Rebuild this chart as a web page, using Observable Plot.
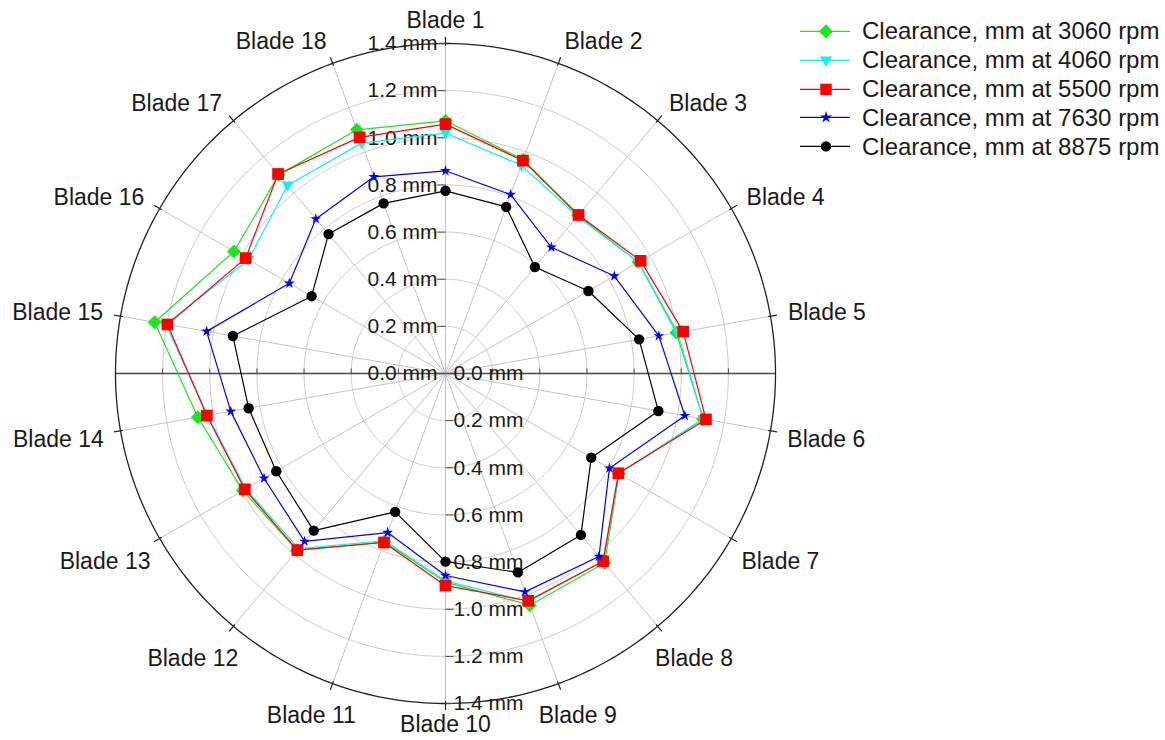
<!DOCTYPE html>
<html>
<head>
<meta charset="utf-8">
<script src="https://cdn.jsdelivr.net/npm/d3@7"></script>
<script src="https://cdn.jsdelivr.net/npm/@observablehq/plot@0.6"></script>
<style>
  body { margin: 0; background: #fff; font-family: "Liberation Sans", Arial, sans-serif; }
  #wrap { position: relative; width: 1165px; height: 740px; overflow: hidden; }
  #legend { position: absolute; left: 800px; top: 17px; }
  .row { display: flex; align-items: center; height: 28.8px; font-size: 24px; color: #1a1a1a; white-space: nowrap; }
  .row svg { margin-right: 12px; flex: none; }
</style>
</head>
<body>
<div id="wrap"><div id="legend"></div></div>
<script>
// ---------- data ----------
const blades = ["Blade 1","Blade 2","Blade 3","Blade 4","Blade 5","Blade 6","Blade 7","Blade 8","Blade 9",
                "Blade 10","Blade 11","Blade 12","Blade 13","Blade 14","Blade 15","Blade 16","Blade 17","Blade 18"];
const seriesNames = ["Clearance, mm at 3060 rpm","Clearance, mm at 4060 rpm","Clearance, mm at 5500 rpm",
                     "Clearance, mm at 7630 rpm","Clearance, mm at 8875 rpm"];
const clear3060 = [1.072,0.965,0.875,0.945,0.995,1.110,0.850,1.050,1.046,0.885,0.760,0.980,0.993,1.067,1.253,1.036,1.100,1.100];
const clear4060 = [1.020,0.940,0.870,0.945,1.000,1.110,0.850,1.040,1.030,0.880,0.755,0.970,0.978,1.025,1.205,0.965,1.042,1.040];
const clear5500 = [1.058,0.961,0.878,0.956,1.024,1.122,0.847,1.040,1.026,0.900,0.763,0.978,0.983,1.028,1.198,0.979,1.105,1.066];
const clear7630 = [0.860,0.808,0.699,0.827,0.919,1.031,0.803,1.013,0.986,0.857,0.718,0.930,0.889,0.925,1.029,0.765,0.856,0.888];
const clear8875 = [0.775,0.752,0.590,0.700,0.834,0.917,0.714,0.894,0.898,0.798,0.625,0.870,0.829,0.848,0.916,0.656,0.772,0.768];
const radialTicks = [0, 0.2, 0.4, 0.6, 0.8, 1.0, 1.2, 1.4];
const tickLabels = ["0.0 mm","0.2 mm","0.4 mm","0.6 mm","0.8 mm","1.0 mm","1.2 mm","1.4 mm"];

// ---------- styles ----------
const downTriangle = {
  draw(ctx, size) {
    const r = Math.sqrt(size / Math.PI);
    ctx.moveTo(-1.15 * r, -0.75 * r);
    ctx.lineTo(1.15 * r, -0.75 * r);
    ctx.lineTo(0, 1.25 * r);
    ctx.closePath();
  }
};
const styles = [
  {color: "#1ee61e", symbol: "diamond2", r: 6.3, d3sym: d3.symbolDiamond2, lsize: 130},
  {color: "#10f0f0", symbol: downTriangle, r: 5.2, d3sym: downTriangle, lsize: 85},
  {color: "#ff0000", symbol: "square", r: 6.6, d3sym: d3.symbolSquare, lsize: 130},
  {color: "#0000ff", symbol: "star", r: 3.4, d3sym: d3.symbolStar, lsize: 45},
  {color: "#000000", symbol: "circle", r: 5.2, d3sym: d3.symbolCircle, lsize: 85}
];
const seriesValues = [clear3060, clear4060, clear5500, clear7630, clear8875];

const RMAX = 1.4;
const lon = i => 180 - 20 * i;       // Blade 1 at top, clockwise
const lat = v => 90 - v;             // radius in degrees from the pole

const vTick = {draw(ctx) { ctx.moveTo(0, 0); ctx.lineTo(0, -5); }};
const lTick = {draw(ctx) { ctx.moveTo(0, 0); ctx.lineTo(-8, 0); }};
const rTick = {draw(ctx) { ctx.moveTo(0, 0); ctx.lineTo(8, 0); }};

const circle = r => d3.geoCircle().center([0, 90]).radius(r).precision(1)();

// text width measurement for blade label placement
const cnv = document.createElement("canvas").getContext("2d");
cnv.font = "23px 'Liberation Sans'";

const bladeLabelMarks = blades.map((b, i) => {
  const deg = 20 * i;
  const th = deg * Math.PI / 180;
  const w = cnv.measureText(b).width;
  const upper = Math.cos(th) > 0.01;
  let dx, dy, anchor = "middle";
  if (upper) {
    dy = -Math.cos(th) * 5;
    if (deg === 0) { dx = 0; }
    else { dx = 0; anchor = Math.sin(th) > 0 ? "start" : "end"; }
  } else if (deg === 180) {
    dx = 0; dy = 3.5;
  } else {
    const phi = Math.abs(deg - 180) * Math.PI / 180;
    dx = Math.sin(th) * w / 2;
    dy = -Math.cos(th) * 8.5 + 12 * Math.sin(2 * phi);
  }
  return Plot.text([b], {
    x: lon(i), y: lat(1.475), text: d => d,
    dx, dy, fontSize: 23, fill: "#1a1a1a", textAnchor: anchor
  });
});

const seriesMarks = seriesValues.flatMap((vals, s) => {
  const st = styles[s];
  const rows = vals.map((v, i) => ({i, v}));
  return [
    Plot.line(rows, {x: d => lon(d.i), y: d => lat(d.v), stroke: st.color, strokeWidth: 1.2, curve: "linear-closed"}),
    Plot.dot(rows, {x: d => lon(d.i), y: d => lat(d.v), symbol: st.symbol, r: st.r, fill: st.color, stroke: "none"})
  ];
});

const hAxisTicks = radialTicks.filter(v => v > 0 && v < RMAX);

const chart = Plot.plot({
  width: 1165,
  height: 740,
  marginLeft: 115, marginRight: 390, marginTop: 43, marginBottom: 37,
  style: {fontFamily: "'Liberation Sans', Arial, sans-serif", background: "transparent", overflow: "visible"},
  projection: {
    type: "azimuthal-equidistant",
    rotate: [0, -90],
    domain: circle(RMAX),
    clip: false
  },
  marks: [
    // grid circles
    Plot.geo(radialTicks.filter(v => v > 0 && v < RMAX), {geometry: circle, stroke: "#cccccc", fill: "none", strokeWidth: 1}),
    // spokes
    Plot.link(blades, {x1: (d, i) => lon(i), y1: 90, x2: (d, i) => lon(i), y2: lat(RMAX), stroke: "#c4c4c4", strokeWidth: 1}),
    // horizontal axis
    Plot.link([90, -90], {x1: d => d, y1: 90, x2: d => d, y2: lat(RMAX), stroke: "#4a4a4a", strokeWidth: 1.3}),
    Plot.dot(hAxisTicks.flatMap(v => [[90, v], [-90, v]]), {x: d => d[0], y: d => lat(d[1]), symbol: vTick, stroke: "#4a4a4a", fill: "none", strokeWidth: 1}),
    // outer circle
    Plot.geo([RMAX], {geometry: circle, stroke: "#222", fill: "none", strokeWidth: 1.3}),
    // outer spoke ticks
    Plot.link(blades, {x1: (d, i) => lon(i), y1: lat(RMAX - 0.01), x2: (d, i) => lon(i), y2: lat(RMAX + 0.028), stroke: "#222", strokeWidth: 1.2}),
    // radial tick labels (upper and lower)
    Plot.text(radialTicks, {x: 180, y: d => lat(d), text: (d, i) => tickLabels[i], textAnchor: "end", dx: -8, fontSize: 21, fill: "#1a1a1a"}),
    Plot.text(radialTicks, {x: 0, y: d => lat(d), text: (d, i) => tickLabels[i], textAnchor: "start", dx: 8, fontSize: 21, fill: "#1a1a1a"}),
    // vertical axis ticks
    Plot.dot(radialTicks, {x: 180, y: d => lat(d), symbol: lTick, stroke: "#4a4a4a", fill: "none", strokeWidth: 1}),
    Plot.dot(radialTicks, {x: 0, y: d => lat(d), symbol: rTick, stroke: "#4a4a4a", fill: "none", strokeWidth: 1}),
    // blade labels
    ...bladeLabelMarks,
    // data
    ...seriesMarks
  ]
});
chart.style.position = "absolute";
chart.style.left = "0";
chart.style.top = "0";
document.getElementById("wrap").prepend(chart);

// ---------- legend ----------
const legend = d3.select("#legend");
seriesNames.forEach((name, s) => {
  const st = styles[s];
  const row = legend.append("div").attr("class", "row");
  const svg = row.append("svg").attr("width", 50).attr("height", 28.8);
  svg.append("line").attr("x1", 0).attr("x2", 50).attr("y1", 14.4).attr("y2", 14.4)
     .attr("stroke", st.color).attr("stroke-width", 1.2);
  svg.append("path").attr("transform", "translate(26,14.4)")
     .attr("d", d3.symbol(st.d3sym, st.lsize)()).attr("fill", st.color);
  row.append("span").text(name);
});
</script>
</body>
</html>
